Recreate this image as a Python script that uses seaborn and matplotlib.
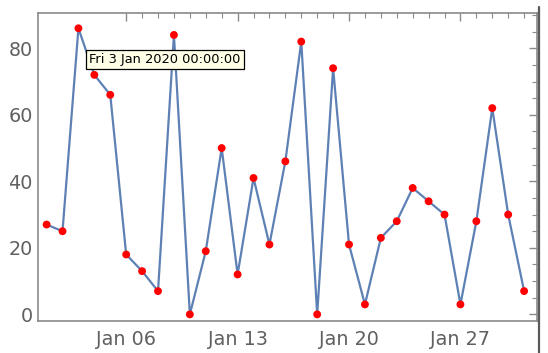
import matplotlib
matplotlib.use("Agg")
import matplotlib.pyplot as plt
import matplotlib.dates as mdates
from matplotlib.lines import Line2D
from matplotlib.ticker import FixedLocator, MultipleLocator
import numpy as np
import pandas as pd
import seaborn as sns

# Data (daily values, January 2020)
dates = pd.date_range("2020-01-01", "2020-01-31", freq="D")
values = [27, 25, 86, 72, 66, 18, 13, 7, 84, 0,
          19, 50, 12, 41, 21, 46, 82, 0, 74, 21,
          3, 23, 28, 38, 34, 30, 3, 28, 62, 30, 7]
major_days = ["2020-01-06", "2020-01-13", "2020-01-20", "2020-01-27"]
tooltip_text = "Fri 3 Jan 2020 00:00:00"

df = pd.DataFrame({"date": dates, "value": values})

sns.set_style("white")
plt.rcParams["font.family"] = ["DejaVu Sans"]

frame_col = "#8a8a8a"
label_col = "#606060"

fig = plt.figure(figsize=(5.48, 3.53), dpi=100)
ax = fig.add_axes([0.0699, 0.0915, 0.9095, 0.8717])

sns.lineplot(data=df, x="date", y="value", color="#5E81B5", linewidth=1.6, ax=ax)
sns.scatterplot(data=df, x="date", y="value", color="#FF0000", s=32,
                edgecolor="none", zorder=3, ax=ax)

ax.set_xlim(pd.Timestamp("2019-12-31 11:30"), pd.Timestamp("2020-01-31 19:00"))
ax.set_ylim(-1.9, 90.6)

# x ticks
ax.xaxis.set_major_locator(FixedLocator(mdates.date2num(pd.to_datetime(major_days))))
ax.xaxis.set_major_formatter(mdates.DateFormatter("%b %d"))
minor_days = pd.date_range("2020-01-07", "2020-01-31", freq="D")
ax.xaxis.set_minor_locator(FixedLocator(mdates.date2num(minor_days)))

# y ticks
ax.yaxis.set_major_locator(MultipleLocator(20))
ax.yaxis.set_minor_locator(MultipleLocator(5))

ax.tick_params(which="both", direction="in", top=True, right=True,
               color=frame_col, labelcolor=label_col, labelsize=13.8)
ax.tick_params(which="major", length=6, width=1)
ax.tick_params(which="minor", length=3.5, width=0.8)
ax.tick_params(axis="x", pad=7)
ax.tick_params(axis="y", pad=4)

for sp in ax.spines.values():
    sp.set_color(frame_col)
    sp.set_linewidth(1.2)

ax.set_xlabel("")
ax.set_ylabel("")

# tooltip box
fig.text(89 / 548, 1 - 59.5 / 353, tooltip_text, fontsize=9.4, color="black",
         va="center", ha="left",
         bbox=dict(boxstyle="square,pad=0.25", facecolor="#FFFFE8",
                   edgecolor="black", linewidth=0.9))

# window edge on the right
fig.add_artist(Line2D([538.5 / 548, 538.5 / 548], [0, 1 - 7 / 353],
                      color="#5a5a5a", linewidth=1.6))

fig.savefig("out.png", dpi=100)
